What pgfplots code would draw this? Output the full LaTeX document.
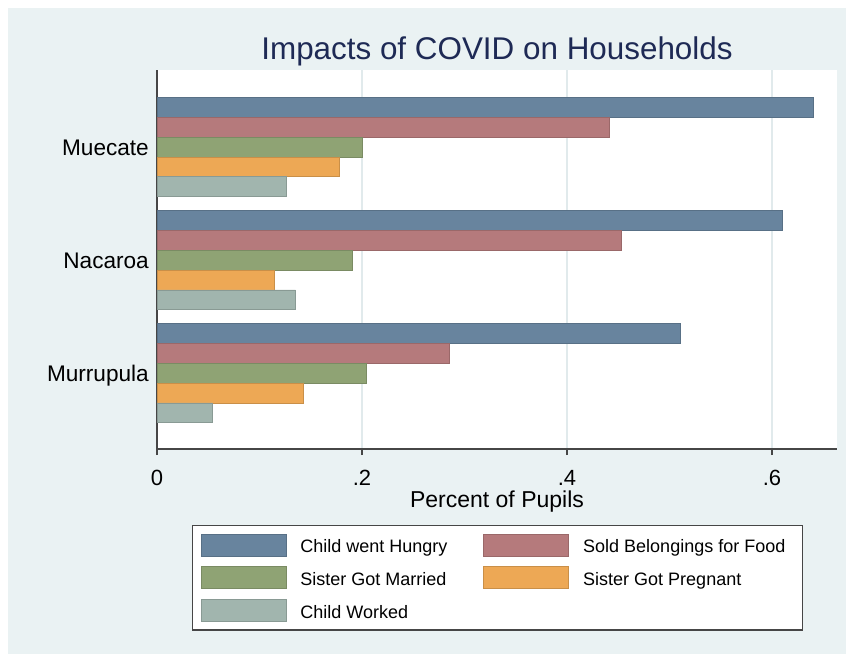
\documentclass[border=0pt]{standalone}
\usepackage{pgfplots}
\pgfplotsset{compat=1.18}
\usepackage{fontspec}
\setmainfont{Liberation Sans}

\definecolor{bgc}{HTML}{EAF2F3}
\definecolor{gridc}{HTML}{E1EAEC}
\definecolor{axc}{HTML}{464646}
\definecolor{titc}{HTML}{1E2A55}
\definecolor{hungry}{HTML}{68849E}
\definecolor{sold}{HTML}{B57A7C}
\definecolor{married}{HTML}{8FA374}
\definecolor{pregnant}{HTML}{EDA855}
\definecolor{worked}{HTML}{A1B5AE}

% legend text: box centred on the cap height so it lines up with the swatch
\newcommand{\legtext}[2]{\raisebox{0pt}[17.4pt][4.6pt]{\makebox[#1][l]{#2}}}

\begin{document}
\begin{tikzpicture}[x=1pt,y=1pt]
\useasboundingbox (0,0) rectangle (846,654);
\fill[white] (0,0) rectangle (846,654);
\fill[bgc] (8,0) rectangle (846,646);
\begin{axis}[
  at={(157pt,205pt)}, anchor=south west,
  scale only axis, width=680pt, height=379pt,
  xbar, bar width=0.175,
  xmin=0, xmax=0.6634, ymin=-0.67, ymax=2.683,
  axis background/.style={fill=white},
  axis lines*=left,
  axis line style={color=axc, line width=1.5pt},
  xmajorgrids, grid style={color=gridc, line width=1.2pt},
  xtick={0,0.2,0.4,0.6}, xticklabels={0,.2,.4,.6},
  xtick align=outside, major tick length=6pt,
  xtick style={color=axc, line width=1.2pt},
  xticklabel style={anchor=base, inner sep=0pt, yshift=-30pt, font=\fontsize{22}{26}\selectfont},
  ytick={0,1,2}, yticklabels={Murrupula,Nacaroa,Muecate},
  ytick style={draw=none},
  yticklabel style={anchor=base east, inner sep=0pt, xshift=-2pt, yshift=-8pt, font=\fontsize{22.6}{26}\selectfont},
  xlabel={Percent of Pupils},
  xlabel style={at={(axis description cs:0.5,0)}, anchor=base, yshift=-58pt, font=\fontsize{23}{27}\selectfont},
  title={Impacts of COVID on Households},
  title style={at={(axis description cs:0.5,1)}, anchor=base, yshift=4pt, font=\fontsize{31.4}{36}\selectfont, color=titc},
  legend columns=2,
  legend cell align=left,
  legend style={at={(axis description cs:0.0515,-0.2005)}, anchor=north west,
    draw=axc, line width=1.2pt, fill=white, inner sep=8pt,
    row sep=10pt, column sep=14pt,
    font=\fontsize{18}{21}\selectfont, nodes={inner sep=0pt}},
  legend image code/.code={\draw[#1, line width=0.8pt] (0pt,-11pt) rectangle (85pt,11pt);},
]
\addplot[fill=hungry, draw=hungry!85!black, line width=0.8pt, bar shift=0.35]
  coordinates {(0.6407,2) (0.6106,1) (0.5104,0)};
\addlegendentry{\legtext{169pt}{Child went Hungry}}
\addplot[fill=sold, draw=sold!85!black, line width=0.8pt, bar shift=0.175]
  coordinates {(0.4412,2) (0.4534,1) (0.2857,0)};
\addlegendentry{\legtext{211pt}{Sold Belongings for Food}}
\addplot[fill=married, draw=married!85!black, line width=0.8pt, bar shift=0]
  coordinates {(0.2003,2) (0.1903,1) (0.2038,0)};
\addlegendentry{\legtext{169pt}{Sister Got Married}}
\addplot[fill=pregnant, draw=pregnant!85!black, line width=0.8pt, bar shift=-0.175]
  coordinates {(0.1777,2) (0.1141,1) (0.1424,0)};
\addlegendentry{\legtext{211pt}{Sister Got Pregnant}}
\addplot[fill=worked, draw=worked!85!black, line width=0.8pt, bar shift=-0.35]
  coordinates {(0.1263,2) (0.1350,1) (0.0540,0)};
\addlegendentry{\legtext{169pt}{Child Worked}}
\end{axis}
\end{tikzpicture}
\end{document}
